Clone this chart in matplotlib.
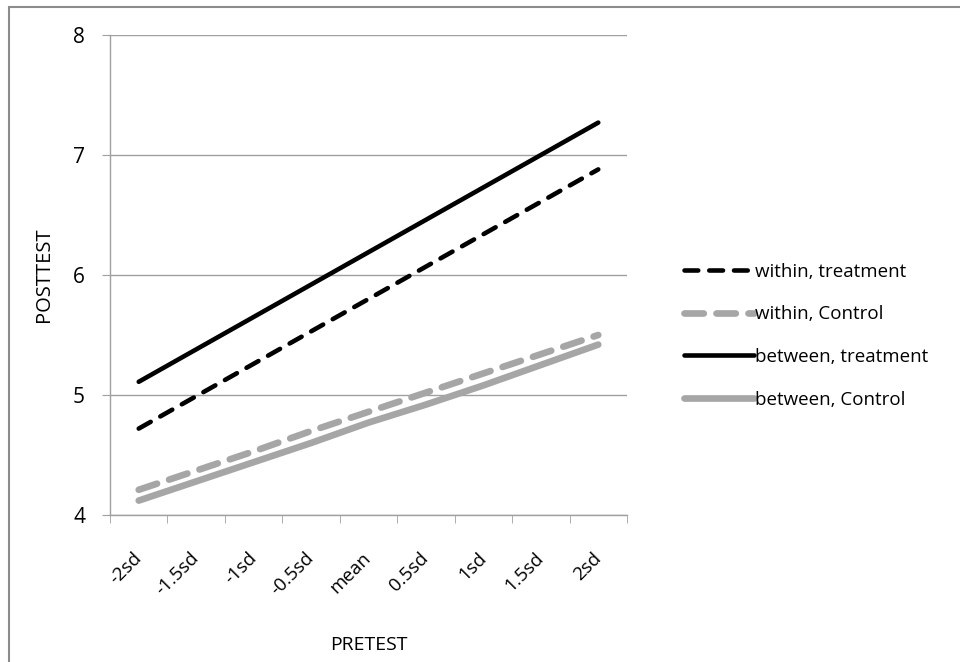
import matplotlib
matplotlib.use("Agg")
import matplotlib.pyplot as plt
from matplotlib.patches import Rectangle

# categories on the x axis
categories = ['-2sd', '-1.5sd', '-1sd', '-0.5sd', 'mean', '0.5sd', '1sd', '1.5sd', '2sd']

# values
within_treatment = [4.72, 4.99, 5.26, 5.53, 5.80, 6.07, 6.34, 6.61, 6.88]
within_control = [4.21, 4.37, 4.53, 4.70, 4.86, 5.02, 5.18, 5.34, 5.50]
between_treatment = [5.11, 5.38, 5.65, 5.92, 6.19, 6.46, 6.73, 7.00, 7.27]
between_control = [4.12, 4.28, 4.44, 4.60, 4.77, 4.92, 5.08, 5.25, 5.42]

series_labels = ['within, treatment', 'within, Control', 'between, treatment', 'between, Control']

plt.rcParams['font.family'] = ['Open Sans', 'DejaVu Sans']

black = '#000000'
grey = '#a6a6a6'
axis_grey = '#a0a0a0'

fig = plt.figure(figsize=(9.6, 6.62), dpi=100)
ax = fig.add_axes([110 / 960, 1 - 515 / 662, (627 - 110) / 960, (515 - 35) / 662])

x = list(range(len(categories)))

l1, = ax.plot(x, within_treatment, color=black, lw=3.3, linestyle=(0, (3.0, 2.4)),
              dash_capstyle='round', solid_capstyle='round')
l2, = ax.plot(x, within_control, color=grey, lw=4.8, linestyle=(0, (2.9, 1.9)),
              dash_capstyle='round', solid_capstyle='round')
l3, = ax.plot(x, between_treatment, color=black, lw=3.3, solid_capstyle='round')
l4, = ax.plot(x, between_control, color=grey, lw=4.8, solid_capstyle='round')

ax.set_xlim(-0.5, len(categories) - 0.5)
ax.set_ylim(4, 8)
ax.set_yticks([4, 5, 6, 7, 8])
ax.yaxis.grid(True, color=axis_grey, lw=1)
ax.set_axisbelow(True)

for s in ['top', 'right']:
    ax.spines[s].set_visible(False)
for s in ['left', 'bottom']:
    ax.spines[s].set_color(axis_grey)
    ax.spines[s].set_linewidth(1)

# category ticks sit between the categories, labels at the centres
ax.set_xticks([i - 0.5 for i in range(len(categories) + 1)], minor=True)
ax.set_xticks(x)
ax.set_xticklabels(categories, rotation=45, ha='right', va='center', rotation_mode='anchor')
ax.tick_params(axis='x', which='major', length=0, pad=29, labelsize=13.5)
ax.tick_params(axis='x', which='minor', length=6, color=axis_grey, direction='out')
ax.tick_params(axis='y', length=6, color=axis_grey, direction='out', labelsize=15, pad=12)

ax.set_ylabel('POSTTEST', fontsize=14.5, labelpad=14)
ax.set_xlabel('PRETEST', fontsize=14, va='center')
ax.xaxis.set_label_coords(0.5, (515 - 645) / 480)

leg = fig.legend([l1, l2, l3, l4], series_labels, loc='upper left',
                 bbox_to_anchor=(676 / 960, 1 - 255 / 662), frameon=False,
                 fontsize=13.5, handlelength=3.75, handletextpad=0.05, labelspacing=1.32,
                 borderaxespad=0)

# outer frame of the chart area (cut off at right and bottom)
fig.patches.append(Rectangle((9 / 960, -0.2), 1.2, 1 - 7 / 662 + 0.2,
                             transform=fig.transFigure, fill=False,
                             edgecolor='#8c8c8c', lw=1.5))

fig.savefig('out.png', dpi=100, facecolor='white')
